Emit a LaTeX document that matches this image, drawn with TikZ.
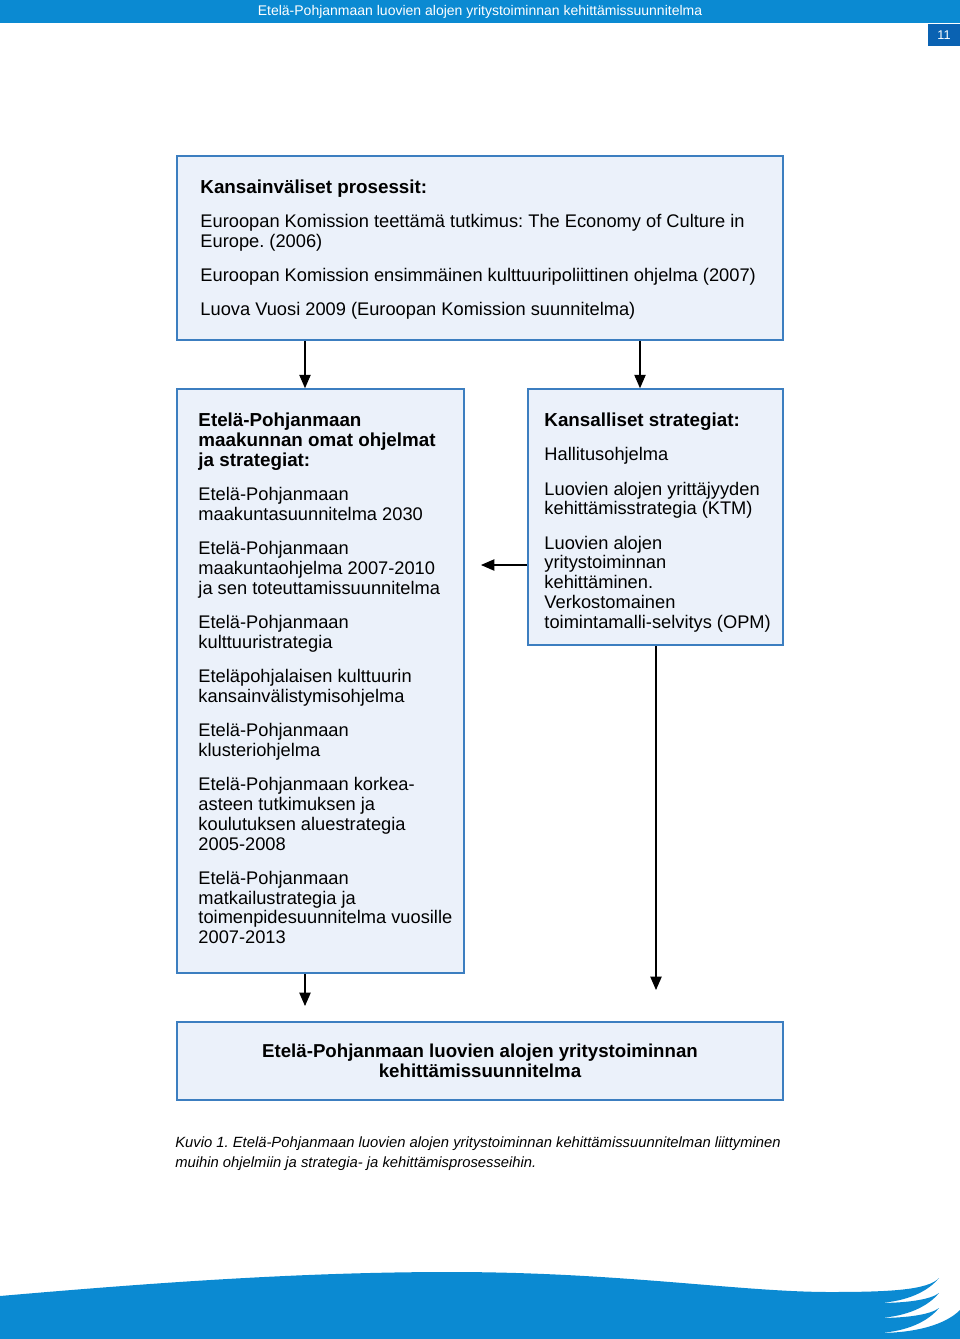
\documentclass[tikz,border=0pt]{standalone}
\usepackage{fontspec}
\setmainfont{Liberation Sans}
\usepackage{xcolor}
\usetikzlibrary{positioning,calc,arrows.meta}
\frenchspacing

\definecolor{headblue}{HTML}{0B8AD2}
\definecolor{pageblue}{HTML}{0A62B2}
\definecolor{boxline}{HTML}{3C7EC0}
\definecolor{boxfill}{HTML}{EBF1FA}

\newcommand{\hd}[1]{{\fontsize{14.1}{14.9}\selectfont\bfseries #1}}

\tikzset{
  box/.style={draw=boxline, fill=boxfill, line width=1.2pt, rectangle, inner sep=0pt},
  boxtext/.style={anchor=north west, align=left, inner sep=0pt, font=\fontsize{13.7}{14.9}\selectfont},
  arr/.style={-{Triangle[length=10pt,width=8.5pt]}, line width=0.8pt},
}

\begin{document}
\begin{tikzpicture}[x=0.75pt, y=-0.75pt]
    \useasboundingbox (0,0) rectangle (960,1339);

    % Header
    \fill[headblue] (0,0) rectangle (960,23);
    \node[text=white, inner sep=0pt, font=\fontsize{10.5}{12}\selectfont] (header) at (480,11.5) {Etelä-Pohjanmaan luovien alojen yritystoiminnan kehittämissuunnitelma};
    \node[fill=pageblue, text=white, minimum width=24pt, minimum height=17pt, inner sep=0pt, font=\fontsize{9.5}{10}\selectfont] (pageno) at (944,35) {11};

    % Boxes
    \node[box, minimum width=454.5pt, minimum height=138pt] (intl) at (480,248) {};
    \node[box, minimum width=215.25pt, minimum height=438pt] (region) at (320.5,681) {};
    \node[box, minimum width=191.25pt, minimum height=192pt] (national) at (655.5,517) {};
    \node[box, minimum width=454.5pt, minimum height=58.5pt, align=center, font=\fontsize{14}{14.9}\selectfont\bfseries] (plan) at (480,1061)
        {Etelä-Pohjanmaan luovien alojen yritystoiminnan\\kehittämissuunnitelma};

    % Box texts
    \node[boxtext, below right=18.2pt and 18pt of intl.north west] (intltxt) {%
        \hd{Kansainväliset prosessit:}\\[10.7pt]
        Euroopan Komission teettämä tutkimus: The Economy of Culture in\\
        Europe. (2006)\\[10.7pt]
        Euroopan Komission ensimmäinen kulttuuripoliittinen ohjelma (2007)\\[10.7pt]
        Luova Vuosi 2009 (Euroopan Komission suunnitelma)};
    \node[boxtext, below right=18.5pt and 16.5pt of region.north west] (regiontxt) {%
        \hd{Etelä-Pohjanmaan}\\
        \hd{maakunnan omat ohjelmat}\\
        \hd{ja strategiat:}\\[10.7pt]
        Etelä-Pohjanmaan\\
        maakuntasuunnitelma 2030\\[10.7pt]
        Etelä-Pohjanmaan\\
        maakuntaohjelma 2007-2010\\
        ja sen toteuttamissuunnitelma\\[10.7pt]
        Etelä-Pohjanmaan\\
        kulttuuristrategia\\[10.7pt]
        Eteläpohjalaisen kulttuurin\\
        kansainvälistymisohjelma\\[10.7pt]
        Etelä-Pohjanmaan\\
        klusteriohjelma\\[10.7pt]
        Etelä-Pohjanmaan korkea-\\
        asteen tutkimuksen ja\\
        koulutuksen aluestrategia\\
        2005-2008\\[10.7pt]
        Etelä-Pohjanmaan\\
        matkailustrategia ja\\
        toimenpidesuunnitelma vuosille\\
        2007-2013};
    \node[boxtext, below right=18.5pt and 12.75pt of national.north west] (nationaltxt) {%
        \hd{Kansalliset strategiat:}\\[10.7pt]
        Hallitusohjelma\\[10.7pt]
        Luovien alojen yrittäjyyden\\
        kehittämisstrategia (KTM)\\[10.7pt]
        Luovien alojen\\
        yritystoiminnan\\
        kehittäminen.\\
        Verkostomainen\\
        toimintamalli-selvitys (OPM)};

    % Connections
    \coordinate (lcol) at (305,0);
    \coordinate (rcol) at (640,0);
    \coordinate (sideend) at (481,565);
    \coordinate (lend) at (305,1006);
    \coordinate (rend) at (656,990);
    \draw[arr] (intl.south -| lcol) -- (region.north -| lcol);
    \draw[arr] (intl.south -| rcol) -- (national.north -| rcol);
    \draw[arr] (national.west |- sideend) -- (sideend);
    \draw[arr] (region.south -| lend) -- (lend);
    \draw[arr] (national.south -| rend) -- (rend);

    % Caption
    \node[anchor=north west, align=left, inner sep=0pt, font=\fontsize{11.1}{15}\selectfont\itshape] (caption) at (175,1136)
        {Kuvio 1. Etelä-Pohjanmaan luovien alojen yritystoiminnan kehittämissuunnitelman liittyminen\\
         muihin ohjelmiin ja strategia- ja kehittämisprosesseihin.};

    % Bottom wave
    \fill[headblue] (0,1296) .. controls (150,1283) and (300,1272) .. (450,1272)
        .. controls (620,1272) and (740,1292) .. (830,1292)
        .. controls (890,1292) and (928,1290) .. (939,1278)
        .. controls (925,1295) and (900,1302) .. (878,1303)
        .. controls (905,1303) and (930,1300) .. (939,1293)
        .. controls (925,1310) and (900,1317) .. (878,1318)
        .. controls (905,1318) and (930,1315) .. (939,1308)
        .. controls (925,1325) and (900,1332) .. (878,1333)
        .. controls (915,1333) and (945,1325) .. (960,1310)
        -- (960,1339) -- (0,1339) -- cycle;
\end{tikzpicture}
\end{document}
